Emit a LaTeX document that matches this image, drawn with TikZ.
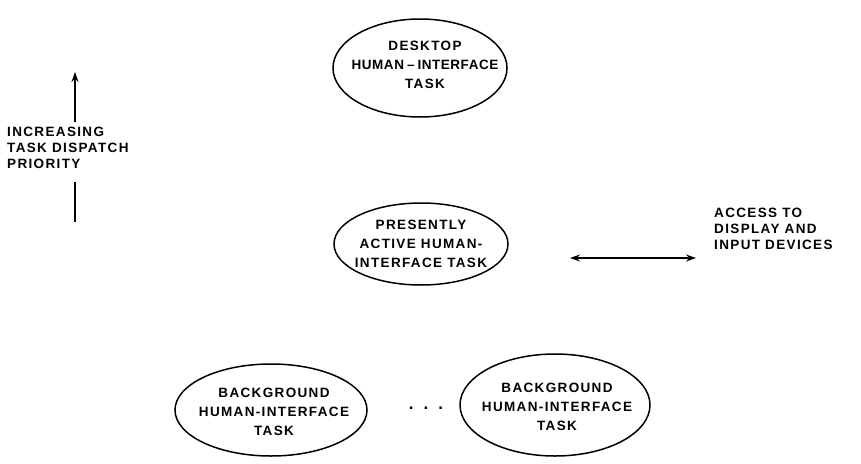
\documentclass[tikz,border=0pt]{standalone}
\usepackage{fontspec}
\setmainfont{Liberation Sans}[LetterSpace=10]
\usetikzlibrary{shapes.geometric,arrows.meta}
\begin{document}
\begin{tikzpicture}[x=1pt,y=-1pt,
  task/.style={inner sep=0pt,align=center,font=\bfseries\fontsize{13.5}{19}\selectfont},
  ring/.style={line width=1.5pt},
  lbl/.style={align=left,font=\bfseries\fontsize{13.5}{16}\selectfont,inner sep=0pt},
  arr/.style={line width=1.5pt,-{Stealth[length=10pt,width=7pt]}}]
\useasboundingbox (0,0) rectangle (861,463);
\node[task] (desk) at (425,65) {DESKTOP\\{\addfontfeature{LetterSpace=4}HUMAN\hspace{3pt}--\hspace{3pt}INTERFACE}\\TASK};
\draw[ring] (420,68) ellipse [x radius=87, y radius=49];
\node[task] (act) at (421,244) {PRESENTLY\\ACTIVE HUMAN-\\INTERFACE TASK};
\draw[ring] (act.center) ellipse [x radius=87, y radius=41];
\node[task] (bg1) at (274,412) {BACKGROUND\\HUMAN-INTERFACE\\TASK};
\draw[ring] (271,410) ellipse [x radius=96, y radius=46];
\node[task] (bg2) at (557,407) {BACKGROUND\\HUMAN-INTERFACE\\TASK};
\draw[ring] (555,405) ellipse [x radius=95, y radius=51];
\node[font=\bfseries\fontsize{17}{17}\selectfont,inner sep=0pt] (dots) at (426,408) {.\hspace{10pt}.\hspace{10pt}.};
\node[lbl,anchor=west] (dev) at (714,229) {ACCESS TO\\DISPLAY AND\\INPUT DEVICES};
\coordinate (ha) at (570,258);
\coordinate (hb) at (696,258);
\draw[line width=1.5pt,{Stealth[length=10pt,width=7pt]}-{Stealth[length=10pt,width=7pt]}] (ha) -- (hb);
\node[lbl,anchor=west] (prio) at (7,148) {INCREASING\\TASK DISPATCH\\PRIORITY};
\coordinate (pa) at (75,122);
\coordinate (pb) at (75,72);
\coordinate (pc) at (75,182);
\coordinate (pd) at (75,222);
\draw[arr] (pa) -- (pb);
\draw[line width=1.5pt] (pc) -- (pd);
\end{tikzpicture}
\end{document}
